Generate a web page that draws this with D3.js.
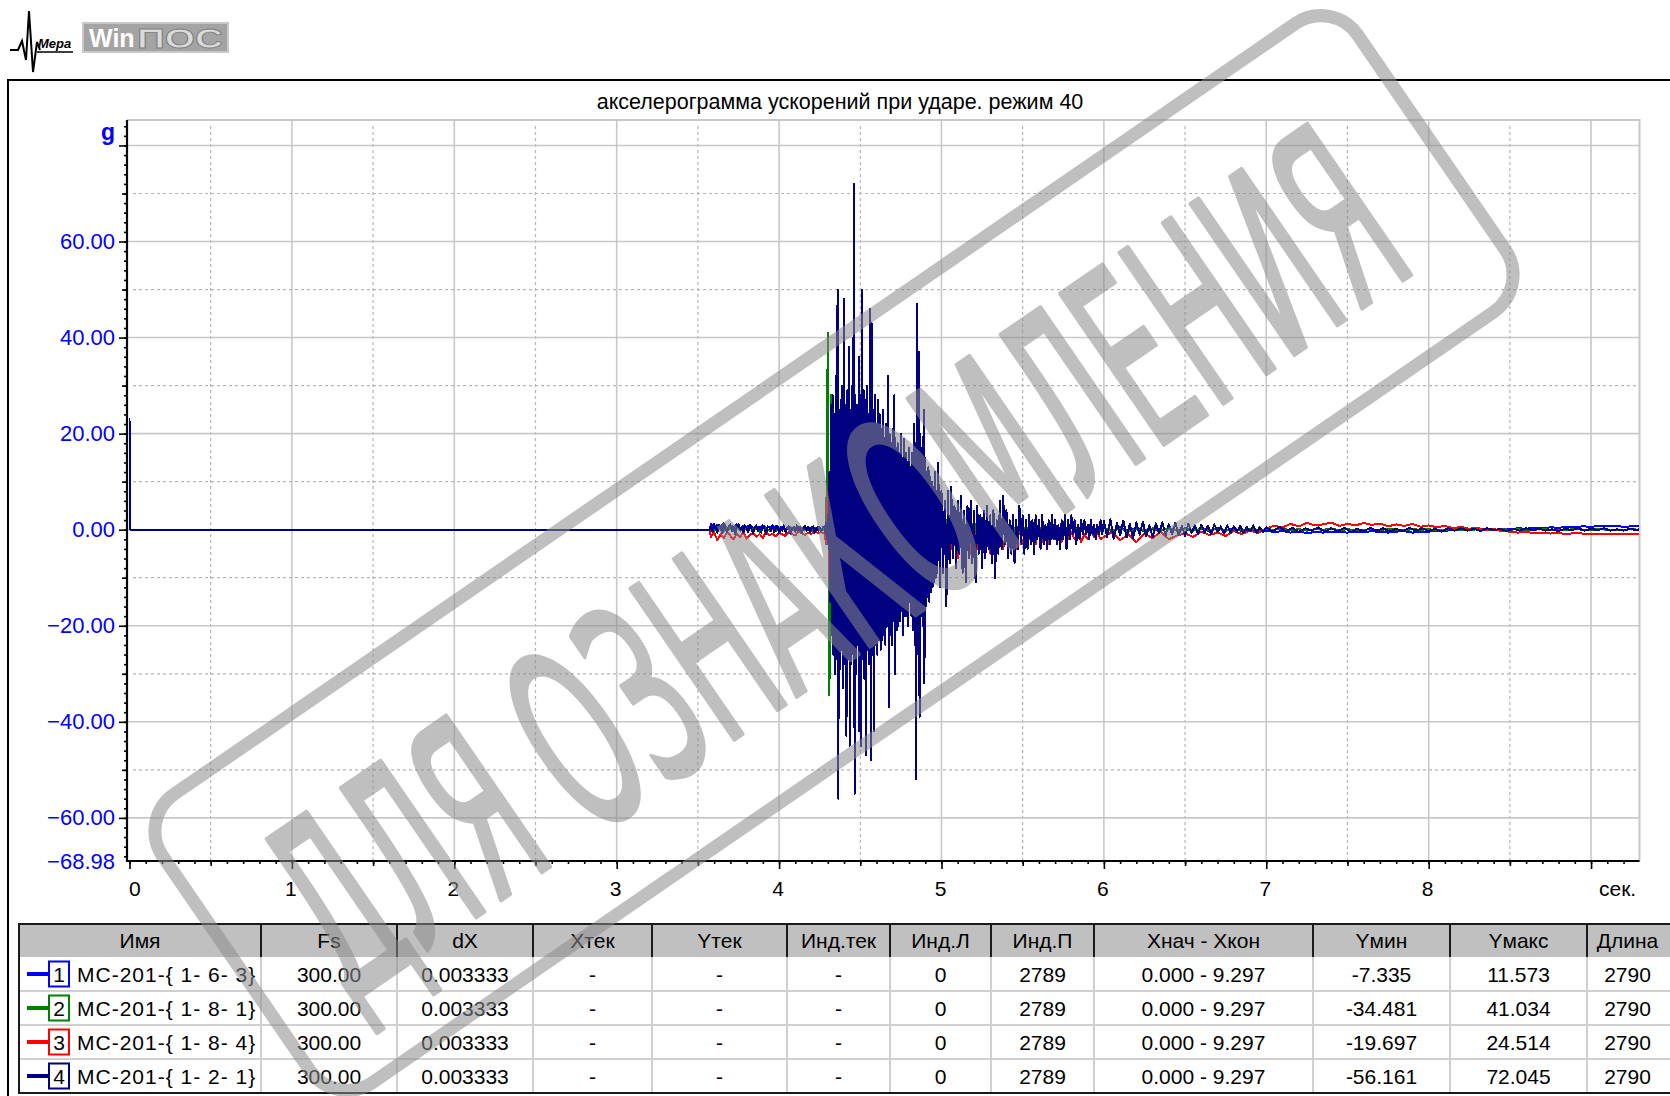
<!DOCTYPE html>
<html>
<head>
<meta charset="utf-8">
<script src="https://cdn.jsdelivr.net/npm/d3@7"></script>
<style>
  body { margin: 0; background: #fff; }
  svg { display: block; font-family: "Liberation Sans", Arial, sans-serif; }
</style>
</head>
<body>
<svg id="chart"></svg>
<script>
// ---- chart data ----
const chartTitle = "акселерограмма ускорений при ударе. режим 40";
const yUnit = "g";
const xUnit = "сек.";
const yMin = -68.98;
const yMax = 85.3;
const tEnd = 9.297;
const yMajor = [-60, -40, -20, 0, 20, 40, 60, 80];
const yHalf = [-50, -30, -10, 10, 30, 50, 70];
const xMajor = [0, 1, 2, 3, 4, 5, 6, 7, 8, 9];
const xHalf = [0.5, 1.5, 2.5, 3.5, 4.5, 5.5, 6.5, 7.5, 8.5];

// every series: runs of [start time, sample step, values]
const ch1 = [
  [0, 3.573, [0, 0]],
  [3.58, 0.02, [1.2, 0.4, 1.0, 0.6, 1.3, 0.2, 0.9, 0.5, 1.1, 0.3, 0.8, 0.6, 1.0, 0.2, 0.7, 0.4, 0.9, 0.3,
    0.6, 0.1, 0.8, 0.4, 0.5, 0.2, 0.7, 0.3, 0.4, 0.6, 0.2, 0.5, 0.3, 0.4, 0.1, 0.5, 0.2, 0.4]],
  [4.30, 0.01, [2, -3, 6, -5, 11.6, -7.3, 8, -6, 9, -4, 7, -6, 10, -5, 6, -7, 8, -4, 5, -6,
    7, -3, 6, -5, 4, -6, 5, -4, 6, -3, 4, -5, 3, -4, 5, -3, 4, -2, 3, -4, 2, -3, 4, -2, 3, -3, 2, -2, 3, -2]],
  [4.80, 0.02, [2, -2, 3, -1, 2, -3, 1, -2, 2, -1, 2, -2, 1, -1, 2, -1, 1, -2, 1, -1,
    1.5, -1, 1, -1.5, 1, -0.5, 1.2, -1, 0.8, -0.6, 1, -0.8, 0.6, -0.7, 0.9, -0.5, 0.7, -0.6, 0.5, -0.4,
    0.8, -0.5, 0.6, -0.3, 0.7, -0.4, 0.5, -0.5, 0.6, -0.3, 0.5, -0.4, 0.6, -0.2, 0.4, -0.3, 0.5, -0.2, 0.4, -0.3]],
  [6.00, 0.05, [0.4, -0.3, 0.5, -0.2, 0.3, -0.4, 0.2, -0.3, 0.4, -0.2, 0.3, -0.2, 0.2, -0.3, 0.3, -0.1, 0.2, -0.3, 0.1, -0.2,
    -0.2, -0.5, -0.3, -0.6, -0.4, -0.7, -0.5, -0.6, -0.4, -0.5, -0.6, -0.4, -0.5, -0.3, -0.5, -0.6, -0.4, -0.3, -0.6, -0.5,
    -0.4, -0.2, -0.3, 0.1, -0.1, 0.2, 0.0, 0.1, -0.1, 0.2, 0.1, 0.3, 0.2, 0.4, 0.3, 0.5, 0.4, 0.6, 0.5, 0.7,
    0.6, 0.8, 0.7, 0.8, 0.6, 0.7]],
  [9.297, 0, [0.7]]
];
const ch2 = [
  [0, 3.573, [0, 0]],
  [3.58, 0.02, [0.3, -0.2, 0.5, 0.1, -0.4, 0.4, 0.2, -0.3, 0.6, 0.0, -0.2, 0.3, 0.5, -0.1, 0.2, -0.4, 0.3, 0.4,
    -0.2, 0.1, -0.3, 0.4, 0.2, -0.1, 0.3, 0.0, -0.2, 0.2, 0.4, -0.1, 0.2, -0.3, 0.3, 0.1, -0.2, 0.2]],
  [4.28, 0.01, [0.3, -2, 41, -34.5, 28, -25, 20, -22, 24, -18, 22, -20, 18, -24, 20, -16, 17, -19, 15, -18,
    16, -14, 18, -15, 13, -17, 14, -12, 15, -13, 12, -14, 11, -12, 13, -10, 10, -12, 11, -9,
    10, -11, 9, -10, 8, -12, 9, -8, 7, -10, 9, -18]],
  [4.80, 0.02, [6, -8, 5, -6, 4, -7, 5, -4, 3, -5, 4, -3, 3, -4, 2, -3, 3, -2, 2, -3,
    2, -2, 1.5, -2, 2, -1, 1, -1.5, 1.5, -1, 1, -1, 0.8, -1, 1, -0.6, 0.7, -0.8, 0.6, -0.5,
    0.7, -0.5, 0.5, -0.6, 0.4, -0.3, 0.5, -0.4, 0.3, -0.4, 0.4, -0.3, 0.3, -0.2, 0.4, -0.2, 0.3, -0.3, 0.2, -0.2]],
  [6.00, 0.05, [0.3, -0.2, 0.2, -0.3, 0.1, -0.2, 0.3, -0.1, 0.2, -0.2, 0.1, -0.2, 0.2, -0.1, 0.2, -0.2, 0.1, -0.1, 0.2, -0.1,
    0.1, 0.0, 0.2, -0.1, 0.1, -0.2, 0.1, 0.0, 0.2, -0.1, 0.1, -0.1, 0.0, 0.1, -0.1, 0.2, 0.0, -0.1, 0.1, 0.0,
    0.1, -0.1, 0.0, 0.1, 0.0, -0.1, 0.1, 0.0, -0.1, 0.1, 0.0, 0.1, -0.1, 0.0, 0.1, 0.0, -0.1, 0.0, 0.1, 0.0,
    0.0, 0.1, 0.0, -0.1, 0.0, 0.1]],
  [9.297, 0, [0]]
];
const ch3 = [
  [0, 3.573, [0, 0]],
  [3.58, 0.02, [-1.5, -0.6, -2.2, -1.0, -1.8, -0.4, -1.3, -2.0, -0.8, -1.6, -0.5, -1.9, -1.1, -0.7, -1.5, -0.9, -1.7, -0.4,
    -1.2, -0.8, -1.4, -0.6, -1.0, -1.3, -0.5, -0.9, -1.2, -0.4, -0.8, -1.1, -0.6, -0.9, -0.3, -0.7, -0.5, -0.8]],
  [4.28, 0.01, [-1, -3, 8, -10, 12, -14, 15, -16, 18, -15, 16, -19.7, 17, -14, 19, -16, 24.5, -15, 16, -13,
    14, -12, 15, -11, 13, -12, 12, -10, 11, -9, 10, -9, 8, -10, 7, -8, 9, -7, 8, -6,
    7, -6, 6, -8, 5, -7, 6, -5, 5, -6, 6.5, -7]],
  [4.80, 0.02, [4, -6, 3, -7, 2, -8, 3, -5, 2, -6, 1, -5, 2, -4, 1, -6, 0, -4, 1, -5,
    0, -4, 1, -3, -1, -5, 0, -3, -1, -4, 0, -3, -1, -4, 0, -3, -1, -2, -0.5, -3,
    0, -2.5, -1, -3, 0, -2, -1, -2.5, 0, -2, -0.5, -2, 0, -2.5, -1, -2, 0, -1.5, -0.5, -2]],
  [6.00, 0.05, [-1.5, -0.5, -2.2, -1.0, -2.6, -0.8, -1.8, -0.4, -2.0, -1.2, -0.8, -1.5, -0.4, -1.1, -0.6, -1.3, -0.3, -0.9, -0.2, -0.7,
    0.3, 0.8, 0.5, 1.2, 0.7, 1.4, 0.9, 1.1, 1.5, 0.8, 1.2, 0.9, 1.4, 1.0, 1.3, 0.7, 1.1, 0.8, 1.2, 0.6,
    0.9, 0.5, 0.8, 0.3, 0.6, 0.2, 0.4, -0.1, 0.2, -0.3, -0.4, -0.6, -0.5, -0.7, -0.6, -0.8, -0.7, -0.9, -0.7, -0.8,
    -0.9, -0.8, -1.0, -0.9, -0.8, -1.0]],
  [9.297, 0, [-0.9]]
];
const ch4 = [
  [0, 0.004, [23.3, 0]],
  [0.004, 3.569, [0, 0]],
  [3.58, 0.01, [0.9, -0.4, 1.2, 0.3, -0.6, 1.0, 0.5, -0.8, 1.3, 0.2, -0.5, 0.8, 1.1, -0.3, 0.6, -0.9, 0.7, 1.2, -0.2, 0.4,
    -0.7, 0.9, 0.3, -0.5, 1.0, 0.1, -0.8, 0.6, 0.9, -0.4, 0.5, -0.6, 0.8, 0.2, -0.9, 0.7, 0.4, -0.3, 1.0, -0.5,
    0.3, 0.8, -0.7, 0.5, -0.2, 0.9, -0.6, 0.4, 0.7, -0.8, 0.2, 0.6, -0.4, 0.9, -0.3, 0.5, -0.7, 0.3, 0.8, -0.2,
    0.6, -0.5, 0.4, 0.7, -0.6, 0.3, -0.2, 0.5, -0.4, 0.6]],
  [4.28, 0.005, [0.4, -0.8, 1.5, -2, 3, -4, 12, -15, 26, -22, 28, -26, 24, -30, 32, -27, 50, -56, 25, -29,
    27, -25, 30, -33, 48, -28, 26, -43, 29, -27, 38, -45, 25, -28, 30, -26, 72, -55, 28, -30,
    26, -24, 36, -42, 28, -45, 50, -27, 29, -31, 27, -47, 30, -25, 24, -28, 46, -48, 43, -26,
    25, -42, 28, -24, 22, -26, 27, -23, 24, -25, 21, -23, 25, -22, 19, -24, 22, -20, 32, -37,
    20, -22, 18, -24, 21, -19, 28, -30, 17, -21, 18, -20, 16, -19, 20, -17, 15, -22, 19, -18,
    16, -18, 14, -20, 17, -15, 13, -18, 16, -21, 22, -24, 18, -52, 47, -26, 37, -39, 20, -18,
    17, -20, 25, -32, 15, -16, 12, -14, 13, -15, 11, -13, 10, -12, 9, -11, 12, -10, 8, -9]],
  [4.98, 0.01, [14, -12, 8, -9, 6, -16, 8, -7, 9, -6, 5, -8, 6, -5, 7, -9, 4, -11, 5, -6,
    6, -7, 4, -11, 5, -5, 3, -8, 4, -6, 5, -4, 3, -7, 4, -10, 2, -5, 6, -4,
    7, -3, 4, -6, 2, -5, 3, -7, 2, -4, 5, -3, 3, -5, 2, -4, 3, -3, 2, -5,
    3, -2, 2, -4, 3, -3, 1, -4, 2, -3, 3, -2, 2, -3, 1, -4, 2, -2, 3, -4,
    2, -2, 3, -1, 2, -3, 1, -2, 2, -1, 2, -1, 1, -2, 2, -1, 1, -2, 1, -1, 2, -1]],
  [6.00, 0.02, [1.8, -1.5, 2.2, -1.9, 1.4, -1.2, 1.9, -1.6, 1.2, -1.8, 1.5, -1.0, 1.7, -1.4, 0.9, -1.6, 1.3, -0.8, 1.6, -1.2,
    1.1, -0.9, 1.4, -1.1, 0.8, -1.3, 1.2, -0.7, 0.9, -1.0, 1.0, -0.6, 0.8, -0.9, 1.1, -0.5, 0.7, -0.8, 0.9, -0.6,
    0.7, -0.5, 0.8, -0.7, 0.6, -0.4, 0.9, -0.6, 0.5, -0.5]],
  [7.00, 0.04, [0.5, -0.4, 0.6, -0.3, 0.4, -0.5, 0.3, -0.2, 0.5, -0.4, 0.3, -0.3, 0.4, -0.5, 0.2, -0.3, 0.4, -0.2, 0.3, -0.4,
    0.2, -0.3, 0.4, -0.2, 0.3, -0.3, 0.2, -0.4, 0.3, -0.2, 0.3, -0.2, 0.2, -0.3, 0.3, -0.1, 0.2, -0.3, 0.2, -0.2,
    0.3, -0.1, 0.2, -0.2, 0.1, -0.3, 0.2, -0.1, 0.3, -0.2, 0.2, -0.1, 0.3, -0.2, 0.1, -0.2, 0.2, -0.1]],
  [9.297, 0, [0.1]]
];
const seriesData = [ch1, ch2, ch3, ch4];
const seriesColors = ["#0000ff", "#008000", "#ff0000", "#000080"];

// table under the plot
const tableHeads = ["Имя", "Fs", "dX", "Xтек", "Yтек", "Инд.тек", "Инд.Л", "Инд.П", "Хнач - Хкон", "Yмин", "Yмакс", "Длина"];
const chNums = ["1", "2", "3", "4"];
const chNames = ["МС-201-{ 1- 6- 3}", "МС-201-{ 1- 8- 1}", "МС-201-{ 1- 8- 4}", "МС-201-{ 1- 2- 1}"];
const chFs = ["300.00", "300.00", "300.00", "300.00"];
const chDx = ["0.003333", "0.003333", "0.003333", "0.003333"];
const chXcur = ["-", "-", "-", "-"];
const chYcur = ["-", "-", "-", "-"];
const chIcur = ["-", "-", "-", "-"];
const chIL = ["0", "0", "0", "0"];
const chIR = ["2789", "2789", "2789", "2789"];
const chRange = ["0.000 - 9.297", "0.000 - 9.297", "0.000 - 9.297", "0.000 - 9.297"];
const chYmin = ["-7.335", "-34.481", "-19.697", "-56.161"];
const chYmax = ["11.573", "41.034", "24.514", "72.045"];
const chLen = ["2790", "2790", "2790", "2790"];

// ---- layout ----
const W = 1670, H = 1096;
const plotL = 127, plotR = 1639.5, plotT = 120, plotB = 861;
const colX = [19, 261, 397, 533, 652, 787, 890, 991, 1094, 1313, 1450, 1587, 1676];
const tabTop = 924, headH = 33, rowH = 34;
const font = 21;

const svg = d3.select('#chart').attr('width', W).attr('height', H);

const x = d3.scaleLinear().domain([0, tEnd]).range([129.5, 1639.3]);
const y = d3.scaleLinear().domain([yMin, yMax]).range([plotB, plotT]);

// logo
const logo = svg.append('g');
logo.append('polyline')
  .attr('points', '10,50 18,50 22,41 26,60 29,11 33,72 37,42 40,50')
  .attr('fill', 'none').attr('stroke', '#000').attr('stroke-width', 2);
logo.append('text').attr('x', 38).attr('y', 48)
  .attr('font-size', 13).attr('font-style', 'italic').attr('font-weight', 'bold').text('Мера');
logo.append('line').attr('x1', 37).attr('x2', 73).attr('y1', 52).attr('y2', 52)
  .attr('stroke', '#000').attr('stroke-width', 1.5);
logo.append('rect').attr('x', 83).attr('y', 23).attr('width', 145).attr('height', 29)
  .attr('fill', '#a4a4a4').attr('stroke', '#c8c8c8').attr('stroke-width', 2);
logo.append('text').attr('x', 89).attr('y', 47).attr('font-size', 25).attr('font-weight', 'bold')
  .attr('fill', '#fff').text('Win');
logo.append('text').attr('x', 137).attr('y', 48).attr('font-size', 27).attr('font-weight', 'bold')
  .attr('textLength', 86).attr('lengthAdjust', 'spacingAndGlyphs')
  .attr('fill', '#dadada').attr('stroke', '#7c7c7c').attr('stroke-width', 0.8).text('ПОС');

// outer frame
svg.append('rect').attr('x', 8).attr('y', 80).attr('width', W).attr('height', H)
  .attr('fill', 'none').attr('stroke', '#000').attr('stroke-width', 2);

// title
svg.append('text').attr('x', 840).attr('y', 109).attr('text-anchor', 'middle')
  .attr('font-size', 21.5).text(chartTitle);

// grid
const grid = svg.append('g');
grid.selectAll('.vmaj').data(xMajor.filter(d => d > 0)).enter().append('line')
  .attr('x1', d => x(d)).attr('x2', d => x(d)).attr('y1', plotT).attr('y2', plotB)
  .attr('stroke', '#c8c8c8').attr('stroke-width', 1.6);
grid.selectAll('.vhalf').data(xHalf).enter().append('line')
  .attr('x1', d => x(d)).attr('x2', d => x(d)).attr('y1', plotT + 6).attr('y2', plotB)
  .attr('stroke', '#b4b4b4').attr('stroke-width', 1.2).attr('stroke-dasharray', '3,3');
grid.selectAll('.hmaj').data(yMajor).enter().append('line')
  .attr('x1', plotL).attr('x2', plotR).attr('y1', d => y(d)).attr('y2', d => y(d))
  .attr('stroke', '#c8c8c8').attr('stroke-width', 1.6);
grid.selectAll('.hhalf').data(yHalf).enter().append('line')
  .attr('x1', plotL + 6).attr('x2', plotR).attr('y1', d => y(d)).attr('y2', d => y(d))
  .attr('stroke', '#b4b4b4').attr('stroke-width', 1.2).attr('stroke-dasharray', '3,3');
// light plot border top / right
grid.append('path')
  .attr('d', `M${plotL},${plotT}H${plotR}V${plotB}`)
  .attr('fill', 'none').attr('stroke', '#c8c8c8').attr('stroke-width', 2);

// signals
svg.append('clipPath').attr('id', 'clip').append('rect')
  .attr('x', plotL).attr('y', plotT).attr('width', plotR - plotL).attr('height', plotB - plotT);
const toPoints = runs => runs.flatMap(([t0, dt, vals]) => vals.map((v, i) => [t0 + i * dt, v]));
const line = d3.line().x(d => x(d[0])).y(d => y(d[1]));
svg.append('g').attr('clip-path', 'url(#clip)')
  .selectAll('path').data(seriesData).enter().append('path')
  .attr('d', d => line(toPoints(d)))
  .attr('fill', 'none')
  .attr('stroke', (d, i) => seriesColors[i])
  .attr('stroke-width', 2)
  .attr('stroke-linejoin', 'round')
  .attr('shape-rendering', 'crispEdges');

// y axis
const yAxisG = svg.append('g').attr('transform', `translate(${plotL},0)`);
yAxisG.call(d3.axisLeft(y).tickValues(d3.range(-68, 85, 2)).tickSize(3).tickFormat(''));
yAxisG.call(g => g.select('.domain').remove());
const yMid = svg.append('g').attr('transform', `translate(${plotL},0)`)
  .call(d3.axisLeft(y).tickValues(yHalf).tickSize(5).tickFormat(''));
yMid.select('.domain').remove();
const yMain = svg.append('g').attr('transform', `translate(${plotL},0)`)
  .call(d3.axisLeft(y).tickValues(yMajor).tickSize(8).tickPadding(4)
    .tickFormat(d => d === 80 ? '' : d3.format('.2f')(d)));
yMain.select('.domain').remove();
svg.selectAll('.tick line').attr('stroke', '#000').attr('stroke-width', 1.6);
yMain.selectAll('text').attr('fill', '#0000ff').attr('font-size', 22)
  .attr('font-family', '"Liberation Sans", Arial, sans-serif');
svg.append('text').attr('x', plotL - 12).attr('y', y(yMin)).attr('dy', '0.35em')
  .attr('text-anchor', 'end').attr('fill', '#0000ff').attr('font-size', 22)
  .text(d3.format('.2f')(yMin));
svg.append('text').attr('x', plotL - 12).attr('y', y(80) - 5)
  .attr('text-anchor', 'end').attr('fill', '#0000ff').attr('font-size', 23).attr('font-weight', 'bold')
  .text(yUnit);

// x axis
const xAxisG = svg.append('g').attr('transform', `translate(0,${plotB})`);
xAxisG.call(d3.axisBottom(x).tickValues(d3.range(0, 9.25, 0.1)).tickSize(3).tickFormat(''));
xAxisG.select('.domain').remove();
const xMid = svg.append('g').attr('transform', `translate(0,${plotB})`)
  .call(d3.axisBottom(x).tickValues(xHalf).tickSize(5).tickFormat(''));
xMid.select('.domain').remove();
const xMain = svg.append('g').attr('transform', `translate(0,${plotB})`)
  .call(d3.axisBottom(x).tickValues(xMajor).tickSize(8).tickPadding(12)
    .tickFormat(d => d === 9 ? xUnit : String(d)));
xMain.select('.domain').remove();
svg.selectAll('.tick line').attr('stroke', '#000').attr('stroke-width', 1.6);
xMain.selectAll('text').attr('fill', '#000').attr('font-size', font)
  .attr('font-family', '"Liberation Sans", Arial, sans-serif')
  .attr('text-anchor', d => d === 0 ? 'start' : 'middle')
  .attr('dx', d => d === 0 ? -1 : (d === 9 ? 26 : -1.5));

// axis lines
svg.append('line').attr('x1', plotL).attr('x2', plotL).attr('y1', plotT).attr('y2', plotB + 1)
  .attr('stroke', '#000').attr('stroke-width', 2.2);
svg.append('line').attr('x1', plotL - 1).attr('x2', plotR).attr('y1', plotB).attr('y2', plotB)
  .attr('stroke', '#000').attr('stroke-width', 2.2);

// table
const rows = chNames.map((n, i) => [n, chFs[i], chDx[i], chXcur[i], chYcur[i], chIcur[i],
  chIL[i], chIR[i], chRange[i], chYmin[i], chYmax[i], chLen[i]]);
const tab = svg.append('g');
const tabBottom = tabTop + headH + rowH * rows.length;
tab.append('rect').attr('x', colX[0]).attr('y', tabTop).attr('width', colX[colX.length - 1] - colX[0])
  .attr('height', headH).attr('fill', '#c0c0c0');
// body grid
tab.selectAll('.rl').data(d3.range(1, rows.length)).enter().append('line')
  .attr('x1', colX[0]).attr('x2', W).attr('y1', d => tabTop + headH + d * rowH).attr('y2', d => tabTop + headH + d * rowH)
  .attr('stroke', '#d0d0d0').attr('stroke-width', 2);
tab.selectAll('.cl').data(colX.slice(1, -1)).enter().append('line')
  .attr('x1', d => d).attr('x2', d => d).attr('y1', tabTop + headH).attr('y2', tabBottom)
  .attr('stroke', '#d0d0d0').attr('stroke-width', 2);
tab.selectAll('.hl').data(colX.slice(1, -1)).enter().append('line')
  .attr('x1', d => d).attr('x2', d => d).attr('y1', tabTop).attr('y2', tabTop + headH)
  .attr('stroke', '#1a1a1a').attr('stroke-width', 2);
tab.append('path')
  .attr('d', `M${W},${tabTop}H${colX[0]}V${tabBottom}H${W}`)
  .attr('fill', 'none').attr('stroke', '#1a1a1a').attr('stroke-width', 2);
tab.selectAll('.ht').data(tableHeads).enter().append('text')
  .attr('x', (d, i) => (colX[i] + colX[i + 1]) / 2 - (i === 11 ? 4 : 0)).attr('y', tabTop + headH / 2 + 7.5)
  .attr('text-anchor', 'middle').attr('font-size', font).text(d => d);
rows.forEach((r, ri) => {
  const cy = tabTop + headH + rowH * ri + rowH / 2;
  tab.append('line').attr('x1', 27).attr('x2', 49).attr('y1', cy).attr('y2', cy)
    .attr('stroke', seriesColors[ri]).attr('stroke-width', 4);
  tab.append('rect').attr('x', 49).attr('y', cy - 12.5).attr('width', 20).attr('height', 25)
    .attr('fill', '#fff').attr('stroke', seriesColors[ri]).attr('stroke-width', 2);
  tab.append('text').attr('x', 59).attr('y', cy + 7.5).attr('text-anchor', 'middle')
    .attr('font-size', font).text(chNums[ri]);
  tab.append('text').attr('x', 77).attr('y', cy + 7.5).attr('font-size', font)
    .attr('letter-spacing', 1).text(r[0]);
  r.slice(1).forEach((v, ci) => {
    tab.append('text').attr('x', (colX[ci + 1] + colX[ci + 2]) / 2 - (ci === 10 ? 4 : 0)).attr('y', cy + 7.5)
      .attr('text-anchor', 'middle').attr('font-size', font).text(v);
  });
});

// watermark
const wm = svg.append('g')
  .attr('transform', 'translate(834,553) rotate(-34.5)')
  .attr('opacity', 0.55);
wm.append('rect').attr('x', -725).attr('y', -175).attr('width', 1450).attr('height', 350)
  .attr('rx', 45).attr('fill', 'none').attr('stroke', '#8c8c8c').attr('stroke-width', 13);
wm.append('text').attr('x', -5).attr('y', 97).attr('text-anchor', 'middle')
  .attr('font-family', '"Liberation Sans Narrow", "DejaVu Sans Condensed", sans-serif')
  .attr('font-size', 250).attr('fill', '#8c8c8c')
  .attr('stroke', '#8c8c8c').attr('stroke-width', 5).attr('stroke-linejoin', 'round')
  .attr('textLength', 1300).attr('lengthAdjust', 'spacingAndGlyphs')
  .text('ДЛЯ ОЗНАКОМЛЕНИЯ');
</script>
</body>
</html>
